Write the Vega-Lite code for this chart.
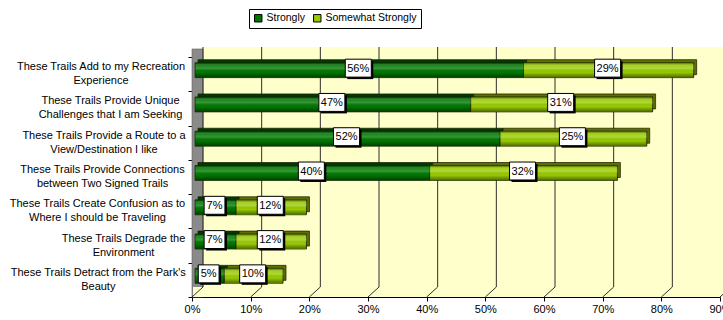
{
  "$schema": "https://vega.github.io/schema/vega-lite/v6.json",
  "autosize": {"type": "none"},
  "width": 528,
  "height": 240,
  "padding": {"left": 192, "top": 57, "right": 3, "bottom": 23},
  "background": "white",
  "config": {
    "view": {"stroke": null},
    "font": "Liberation Sans",
    "axis": {"labelFont": "Liberation Sans", "labelColor": "#000000"}
  },
  "datasets": {
    "survey": [
      {"item": "These Trails Add to my Recreation\nExperience", "series": "Strongly", "pct": 0.56},
      {"item": "These Trails Add to my Recreation\nExperience", "series": "Somewhat Strongly", "pct": 0.29},
      {"item": "These Trails Provide Unique\nChallenges that I am Seeking", "series": "Strongly", "pct": 0.47},
      {"item": "These Trails Provide Unique\nChallenges that I am Seeking", "series": "Somewhat Strongly", "pct": 0.31},
      {"item": "These Trails Provide a Route to a\nView/Destination I like", "series": "Strongly", "pct": 0.52},
      {"item": "These Trails Provide a Route to a\nView/Destination I like", "series": "Somewhat Strongly", "pct": 0.25},
      {"item": "These Trails Provide Connections\nbetween Two Signed Trails", "series": "Strongly", "pct": 0.40},
      {"item": "These Trails Provide Connections\nbetween Two Signed Trails", "series": "Somewhat Strongly", "pct": 0.32},
      {"item": "These Trails Create Confusion as to\nWhere I should be Traveling", "series": "Strongly", "pct": 0.07},
      {"item": "These Trails Create Confusion as to\nWhere I should be Traveling", "series": "Somewhat Strongly", "pct": 0.12},
      {"item": "These Trails Degrade the\nEnvironment", "series": "Strongly", "pct": 0.07},
      {"item": "These Trails Degrade the\nEnvironment", "series": "Somewhat Strongly", "pct": 0.12},
      {"item": "These Trails Detract from the Park's\nBeauty", "series": "Strongly", "pct": 0.05},
      {"item": "These Trails Detract from the Park's\nBeauty", "series": "Somewhat Strongly", "pct": 0.10}
    ],
    "ticks": [
      {"t": 0}, {"t": 0.1}, {"t": 0.2}, {"t": 0.3}, {"t": 0.4},
      {"t": 0.5}, {"t": 0.6}, {"t": 0.7}, {"t": 0.8}, {"t": 0.9}
    ]
  },
  "resolve": {"scale": {"x": "shared", "y": "shared"}},
  "layer": [
    {
      "description": "back wall of the 3-D plot box",
      "data": {"values": [{"plane": "wall"}]},
      "mark": {"type": "rect", "fill": "#FFFFCC", "xOffset": 11, "x2Offset": 30, "yOffset": -10, "y2Offset": -10},
      "encoding": {
        "x": {"datum": 0, "type": "quantitative", "scale": {"domain": [0, 0.9], "nice": false, "zero": true}},
        "x2": {"datum": 0.9},
        "y": {"value": 0},
        "y2": {"value": "height"}
      }
    },
    {
      "description": "grey side wall on the left",
      "data": {"values": [{"plane": "side"}]},
      "mark": {"type": "rect", "fill": "#8A8A8A", "stroke": "#606060", "strokeWidth": 0.6, "xOffset": 0, "x2Offset": 11, "yOffset": -8, "y2Offset": 0},
      "encoding": {
        "x": {"datum": 0, "type": "quantitative"},
        "x2": {"datum": 0},
        "y": {"value": 0},
        "y2": {"value": "height"}
      }
    },
    {
      "description": "floor of the plot box",
      "data": {"values": [{"plane": "floor"}]},
      "mark": {"type": "rect", "fill": "#FFFFCC", "xOffset": 1, "x2Offset": 30, "yOffset": -10, "y2Offset": 0},
      "encoding": {
        "x": {"datum": 0, "type": "quantitative"},
        "x2": {"datum": 0.9},
        "y": {"value": "height"},
        "y2": {"value": "height"}
      }
    },
    {
      "description": "gridlines on the back wall",
      "data": {"name": "ticks"},
      "mark": {"type": "rule", "color": "#2E2E2E", "strokeWidth": 1, "xOffset": 11, "x2Offset": 11, "yOffset": -10, "y2Offset": -10},
      "encoding": {
        "x": {"field": "t", "type": "quantitative"},
        "y": {"value": 0},
        "y2": {"value": "height"}
      }
    },
    {
      "description": "gridlines running across the floor",
      "data": {"name": "ticks"},
      "mark": {"type": "rule", "color": "#2E2E2E", "strokeWidth": 1, "x2Offset": 11, "y2Offset": -10},
      "encoding": {
        "x": {"field": "t", "type": "quantitative"},
        "x2": {"field": "t"},
        "y": {"value": "height"},
        "y2": {"value": "height"}
      }
    },
    {
      "description": "top and end faces of the bars",
      "data": {"name": "survey"},
      "mark": {"type": "bar", "size": 15, "xOffset": 6, "x2Offset": 6, "yOffset": -7, "stroke": "#1A1A00", "strokeWidth": 0.7},
      "encoding": {
        "y": {"field": "item", "type": "nominal", "sort": null, "scale": {"paddingInner": 0, "paddingOuter": 0}},
        "x": {"field": "pct", "type": "quantitative", "stack": "zero"},
        "detail": {"field": "series"},
        "order": {"field": "series", "sort": "descending"},
        "color": {
          "condition": {"test": "datum.series === 'Strongly'", "value": "#003A00"},
          "value": "#5E6E00"
        }
      }
    },
    {
      "description": "front faces of the bars",
      "data": {"name": "survey"},
      "mark": {"type": "bar", "size": 15, "xOffset": 3, "x2Offset": 3, "yOffset": -4, "stroke": "#102000", "strokeWidth": 0.7, "opacity": 1},
      "encoding": {
        "y": {
          "field": "item", "type": "nominal", "sort": null,
          "axis": {
            "title": null,
            "labels": false,
            "tickBand": "extent",
            "tickSize": 4,
            "tickColor": "#000000",
            "domainColor": "#000000",
            "offset": 0
          }
        },
        "x": {
          "field": "pct", "type": "quantitative", "stack": "zero",
          "axis": {
            "title": null,
            "format": ".0%",
            "values": [0, 0.1, 0.2, 0.3, 0.4, 0.5, 0.6, 0.7, 0.8, 0.9],
            "grid": false,
            "labelFontSize": 11,
            "labelFlush": false,
            "labelPadding": 2,
            "tickSize": 4,
            "tickColor": "#000000",
            "domainColor": "#000000"
          }
        },
        "order": {"field": "series", "sort": "descending"},
        "color": {
          "field": "series", "type": "nominal",
          "scale": {"domain": ["Strongly", "Somewhat Strongly"], "range": ["#007800", "#99CC00"]},
          "legend": {
            "title": null,
            "orient": "none",
            "legendX": 57,
            "legendY": -48,
            "direction": "horizontal",
            "strokeColor": "#000000",
            "padding": 4,
            "symbolType": "square",
            "symbolSize": 55,
            "symbolStrokeColor": "#000000",
            "symbolStrokeWidth": 1,
            "labelFontSize": 10.5,
            "labelColor": "#000000",
            "labelOffset": 3,
            "columnPadding": 5
          }
        }
      }
    },
    {
      "description": "cylindrical shading over the bar fronts",
      "data": {"name": "survey"},
      "mark": {
        "type": "bar", "size": 14, "xOffset": 3.5, "x2Offset": 2.5, "yOffset": -4,
        "color": {
          "gradient": "linear", "x1": 0, "y1": 0, "x2": 0, "y2": 1,
          "stops": [
            {"offset": 0, "color": "rgba(0,0,0,0.45)"},
            {"offset": 0.18, "color": "rgba(255,255,255,0.12)"},
            {"offset": 0.38, "color": "rgba(255,255,255,0.22)"},
            {"offset": 0.65, "color": "rgba(0,0,0,0.0)"},
            {"offset": 1, "color": "rgba(0,0,0,0.45)"}
          ]
        }
      },
      "encoding": {
        "y": {"field": "item", "type": "nominal", "sort": null},
        "x": {"field": "pct", "type": "quantitative", "stack": "zero"},
        "detail": {"field": "series"},
        "order": {"field": "series", "sort": "descending"}
      }
    },
    {
      "description": "category names, two centred lines left of the axis",
      "data": {"name": "survey"},
      "transform": [{"filter": "datum.series === 'Strongly'"}],
      "mark": {
        "type": "text", "font": "Liberation Sans", "fontSize": 11, "color": "#000000",
        "align": "center", "baseline": "middle", "lineBreak": "\n", "lineHeight": 14,
        "yOffset": -7,
        "dx": {"expr": "indexof(datum.item, 'Recreation') >= 0 ? -91 : indexof(datum.item, 'Unique') >= 0 ? -81.5 : indexof(datum.item, 'Route') >= 0 ? -88 : indexof(datum.item, 'Connections') >= 0 ? -89.5 : indexof(datum.item, 'Confusion') >= 0 ? -94.5 : indexof(datum.item, 'Degrade') >= 0 ? -68.5 : -93.7"}
      },
      "encoding": {
        "y": {"field": "item", "type": "nominal", "sort": null},
        "x": {"datum": 0, "type": "quantitative"},
        "text": {"field": "item"}
      }
    },
    {
      "description": "value labels: shadow, box, text at each segment centre",
      "data": {"name": "survey"},
      "transform": [
        {"stack": "pct", "groupby": ["item"], "sort": [{"field": "series", "order": "descending"}], "as": ["x0", "x1"]},
        {"fold": ["x0", "x1"], "as": ["edge", "pos"]},
        {"aggregate": [{"op": "mean", "field": "pos", "as": "mid"}], "groupby": ["item", "series", "pct"]}
      ],
      "encoding": {
        "y": {"field": "item", "type": "nominal", "sort": null},
        "x": {"field": "mid", "type": "quantitative"}
      },
      "layer": [
        {
          "mark": {"type": "point", "filled": true, "fill": "#000000", "opacity": 1, "size": 676, "xOffset": 4, "yOffset": -4},
          "encoding": {
            "shape": {
              "condition": {"test": "datum.pct < 0.1", "value": "M-0.8,-0.69H0.8V0.69H-0.8Z"},
              "value": "M-1,-0.69H1V0.69H-1Z"
            }
          }
        },
        {
          "mark": {"type": "point", "filled": true, "fill": "#FFFFFF", "stroke": "#000000", "strokeWidth": 1, "opacity": 1, "size": 676, "xOffset": 2, "yOffset": -6},
          "encoding": {
            "shape": {
              "condition": {"test": "datum.pct < 0.1", "value": "M-0.8,-0.69H0.8V0.69H-0.8Z"},
              "value": "M-1,-0.69H1V0.69H-1Z"
            }
          }
        },
        {
          "mark": {"type": "text", "font": "Liberation Sans", "fontSize": 11, "color": "#000000", "baseline": "middle", "align": "center", "xOffset": 2, "yOffset": -5.5},
          "encoding": {
            "text": {"field": "pct", "type": "quantitative", "format": ".0%"}
          }
        }
      ]
    }
  ]
}
